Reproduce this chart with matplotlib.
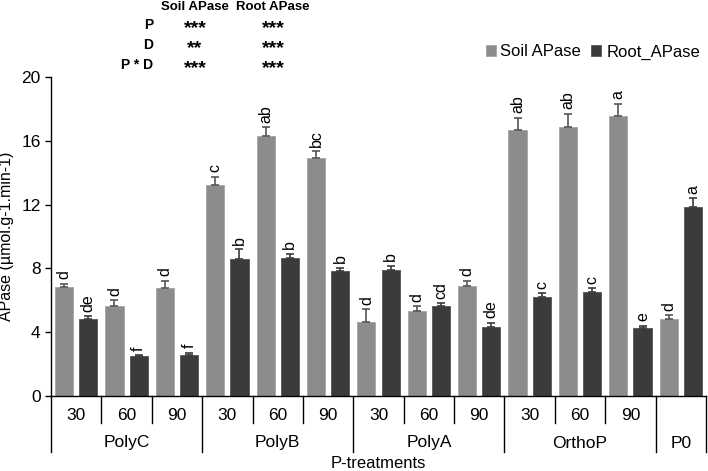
import numpy as np
import matplotlib.pyplot as plt
import matplotlib.transforms as mtransforms

plt.rcParams['font.family'] = ['Liberation Sans', 'DejaVu Sans']

# data
doses = ['30', '60', '90', '30', '60', '90', '30', '60', '90', '30', '60', '90', '']
groups = ['PolyC', 'PolyB', 'PolyA', 'OrthoP', 'P0']
group_sizes = [3, 3, 3, 3, 1]

soil = [6.85, 5.65, 6.8, 13.2, 16.3, 14.95, 4.65, 5.3, 6.9, 16.7, 16.85, 17.55, 4.8]
soil_err = [0.2, 0.37, 0.42, 0.55, 0.55, 0.38, 0.8, 0.33, 0.33, 0.75, 0.85, 0.77, 0.27]
soil_let = ['d', 'd', 'd', 'c', 'ab', 'bc', 'd', 'd', 'd', 'ab', 'ab', 'a', 'd']

root = [4.8, 2.5, 2.55, 8.62, 8.65, 7.85, 7.93, 5.65, 4.35, 6.2, 6.5, 4.25, 11.82]
root_err = [0.2, 0.05, 0.15, 0.58, 0.27, 0.2, 0.25, 0.17, 0.23, 0.23, 0.25, 0.15, 0.58]
root_let = ['de', 'f', 'f', 'b', 'b', 'b', 'b', 'cd', 'de', 'c', 'c', 'e', 'a']

stat_rows = ['P', 'D', 'P * D']
stat_soil = ['***', '**', '***']
stat_root = ['***', '***', '***']

fig = plt.figure(figsize=(7.08, 4.71), dpi=100)
ax = fig.add_axes([51/708, 1-396/471, (706-51)/708, (396-77)/471])

x = np.arange(len(soil))
w = 0.36
off = 0.24
c_soil = '#8c8c8c'
c_root = '#3b3b3b'

ax.bar(x - off, soil, w, color=c_soil, edgecolor='#a5a5a5', linewidth=0.6, label='Soil APase')
ax.bar(x + off, root, w, color=c_root, edgecolor='#555555', linewidth=0.6, label='Root_APase')
ax.errorbar(x - off, soil, yerr=[np.zeros(len(soil)), soil_err], fmt='none',
            ecolor='#555555', elinewidth=1.2, capsize=3, capthick=1.2)
ax.errorbar(x + off, root, yerr=[np.zeros(len(root)), root_err], fmt='none',
            ecolor='#3b3b3b', elinewidth=1.2, capsize=3, capthick=1.2)

for i in range(len(soil)):
    ax.text(x[i] - off, soil[i] + soil_err[i] + 0.28, soil_let[i], rotation=90,
            ha='center', va='bottom', fontsize=11.5)
    ax.text(x[i] + off, root[i] + root_err[i] + 0.28, root_let[i], rotation=90,
            ha='center', va='bottom', fontsize=11.5)

ax.set_xlim(-0.5, len(soil) - 0.5)
ax.set_ylim(0, 20)
ax.set_yticks([0, 4, 8, 12, 16, 20])
ax.tick_params(axis='y', labelsize=12.5, length=4, width=1, direction='out')
ax.set_xticks([])
for s in ['top', 'right']:
    ax.spines[s].set_visible(False)
ax.spines['left'].set_linewidth(1)
ax.spines['bottom'].set_linewidth(1)
ax.set_ylabel('APase (µmol.g-1.min-1)', fontsize=11.5, labelpad=5)

# category table under the axis
trans = mtransforms.blended_transform_factory(ax.transData, ax.transAxes)
y_in = -27/319
y_out = -56/319
bounds = [0]
for g in group_sizes:
    bounds.append(bounds[-1] + g)
for i in range(len(soil) + 1):
    yb = y_out if i in bounds else y_in
    ax.plot([i - 0.5, i - 0.5], [0, yb], color='black', lw=1, transform=trans, clip_on=False)
for i, d in enumerate(doses):
    ax.text(i, -19/319, d, transform=trans, ha='center', va='center', fontsize=12.5)
for j, g in enumerate(groups):
    c = (bounds[j] + bounds[j+1] - 1) / 2
    ax.text(c, -47/319, g, transform=trans, ha='center', va='center', fontsize=12.5)
fig.text(378/708, 1-463/471, 'P-treatments', ha='center', va='center', fontsize=12)

# significance table
fig.text(195/708, 1-7/471, 'Soil APase', ha='center', va='center', fontsize=9.5, fontweight='bold')
fig.text(273/708, 1-7/471, 'Root APase', ha='center', va='center', fontsize=9.5, fontweight='bold')
for k, r in enumerate(stat_rows):
    yy = 1 - (25 + 20*k)/471
    ys = 1 - (29 + 20*k)/471
    fig.text(153/708, yy, r, ha='right', va='center', fontsize=10, fontweight='bold')
    fig.text(195/708, ys, stat_soil[k], ha='center', va='center', fontsize=14, fontweight='bold')
    fig.text(273/708, ys, stat_root[k], ha='center', va='center', fontsize=14, fontweight='bold')

ax.legend(loc='center right', bbox_to_anchor=(700/708, 1-52/471), bbox_transform=fig.transFigure,
          ncol=2, frameon=False, fontsize=12, handlelength=0.6, handleheight=0.6,
          handletextpad=0.3, columnspacing=0.6, borderpad=0, borderaxespad=0)

fig.savefig('out.png', dpi=100)
